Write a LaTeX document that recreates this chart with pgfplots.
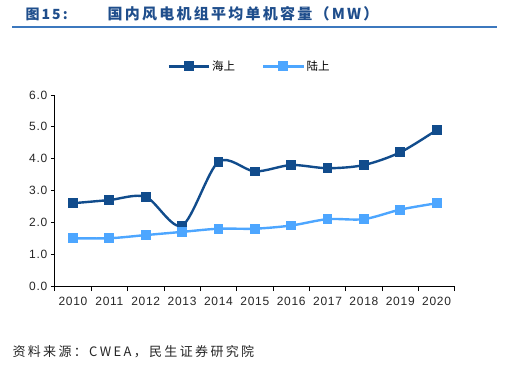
\documentclass[border=0pt]{standalone}
\usepackage{fontspec}
\setmainfont{Liberation Sans}
\newfontfamily\cjk{Noto Sans CJK SC}
\newfontfamily\cjktitle[LetterSpace=15]{Noto Sans CJK SC}
\newfontfamily\cjksrc[LetterSpace=18]{Noto Sans CJK SC}
\newfontfamily\tickfont[LetterSpace=6]{Liberation Sans}
\usepackage{pgfplots}
\pgfplotsset{compat=1.18}
\definecolor{darkb}{RGB}{17,76,140}
\definecolor{lightb}{RGB}{77,166,255}
\definecolor{titleb}{RGB}{31,78,140}
\definecolor{ruleb}{RGB}{60,120,190}
\begin{document}
\begin{tikzpicture}[x=1pt,y=1pt]
\useasboundingbox (0,0) rectangle (514,376);
\node[anchor=west,text=titleb,font=\cjktitle\bfseries\fontsize{14}{15}\selectfont] at (22,362) {图15:};
\node[anchor=west,text=titleb,font=\cjktitle\bfseries\fontsize{15}{16}\selectfont] at (104,362) {国内风电机组平均单机容量（MW）};
\draw[ruleb,line width=1.3pt] (12,349) -- (497,349);
\begin{axis}[
  at={(73pt,90pt)}, anchor=origin,
  scale only axis, width=400pt, height=191pt,
  xmin=-0.5, xmax=10.5, ymin=0, ymax=6,
  axis x line*=bottom, axis y line*=left,
  axis line style={-,line width=1pt,black},
  xtick={0,...,10},
  xticklabels={2010,2011,2012,2013,2014,2015,2016,2017,2018,2019,2020},
  major x tick style={draw=none},
  minor xtick={-0.5,0.5,...,10.5},
  minor tick length=5pt,
  minor x tick style={black,line width=0.8pt},
  ytick={0,1,...,6},
  yticklabel style={/pgf/number format/fixed,/pgf/number format/fixed zerofill,/pgf/number format/precision=1},
  /pgf/number format/assume math mode=true,
  tick align=outside, major tick length=4pt,
  y tick style={black,line width=0.8pt},
  tick label style={font=\tickfont\fontsize{12}{13}\selectfont, text=black!85},
  xticklabel style={yshift=-4pt},
  legend style={at={(axis description cs:0.487,1.15)},anchor=center,draw=none,
    legend columns=2, font=\cjk\fontsize{11.5}{12}\selectfont,
    /tikz/every even column/.append style={column sep=25pt}},
  legend image code/.code={\draw[#1,mark repeat=2,mark phase=2] plot coordinates {(0pt,0pt)(20pt,0pt)(40pt,0pt)};},
]
\addplot[darkb,line width=2.4pt,smooth,mark=square*,mark size=3.7pt,mark options={solid}] coordinates {
(0,2.6)(1,2.7)(2,2.8)(3,1.9)(4,3.9)(5,3.6)(6,3.8)(7,3.7)(8,3.8)(9,4.2)(10,4.9)};
\addlegendentry{海上}
\addplot[lightb,line width=2.4pt,smooth,mark=square*,mark size=3.7pt,mark options={solid}] coordinates {
(0,1.5)(1,1.5)(2,1.6)(3,1.7)(4,1.8)(5,1.8)(6,1.9)(7,2.1)(8,2.1)(9,2.4)(10,2.6)};
\addlegendentry{陆上}
\end{axis}
\node[anchor=west,font=\cjksrc\fontsize{13}{14}\selectfont,text=black!85] at (9,24) {资料来源：CWEA，民生证券研究院};
\end{tikzpicture}
\end{document}
